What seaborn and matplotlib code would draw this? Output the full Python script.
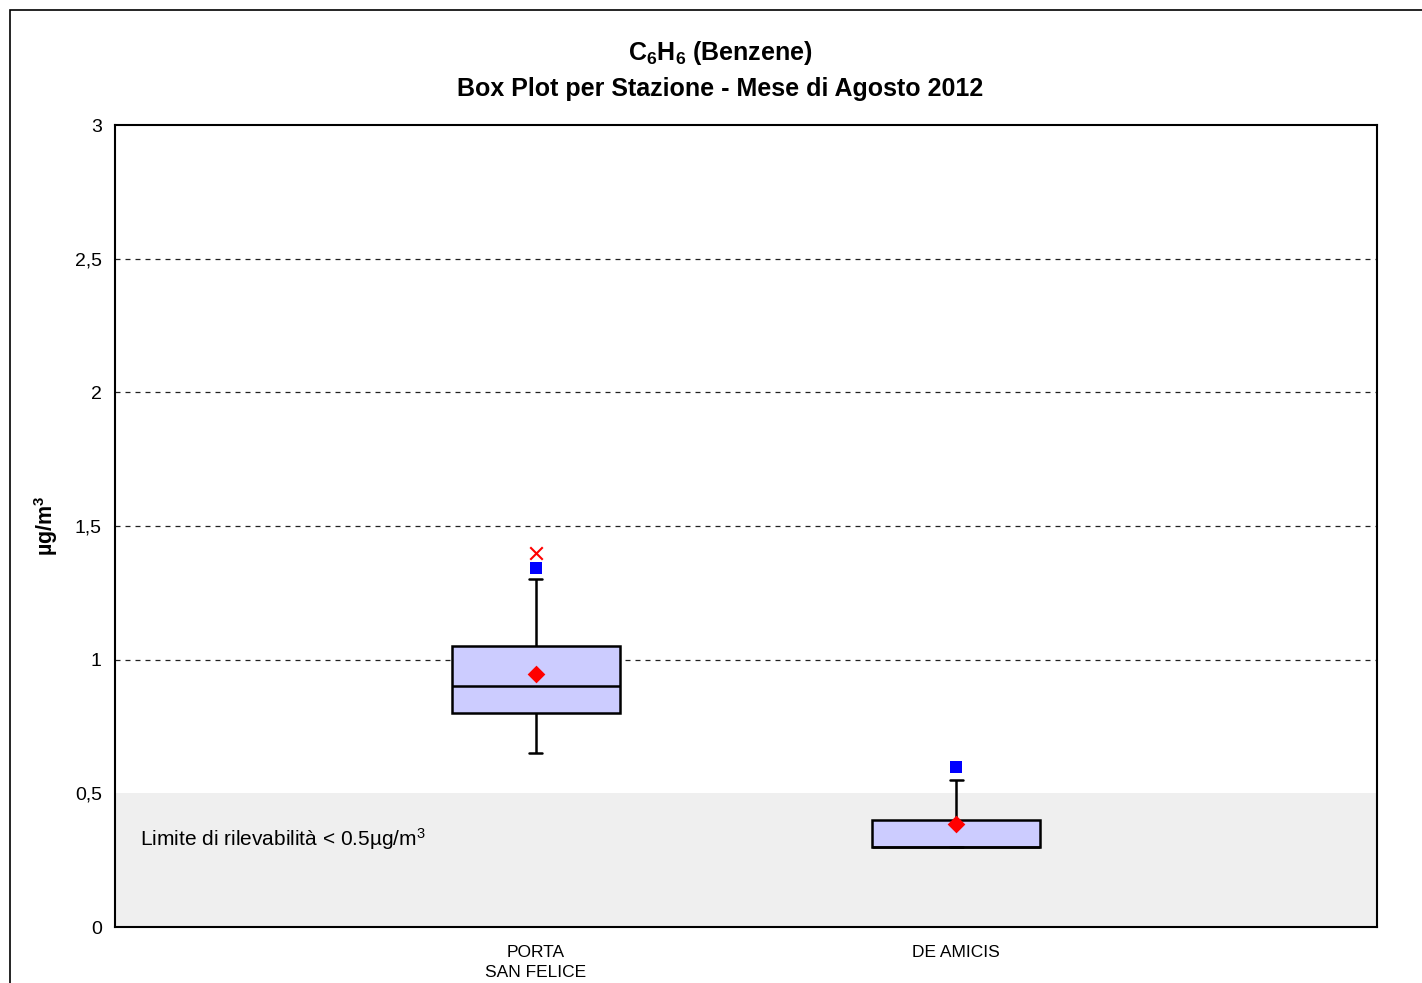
import pandas as pd
import seaborn as sns
import matplotlib.pyplot as plt
from matplotlib.patches import Rectangle
from matplotlib.ticker import FuncFormatter

# --- data ---
stations = ["PORTA SAN FELICE", "DE AMICIS"]
station_labels = ["PORTA\nSAN FELICE", "DE AMICIS"]
# five-number summary per station: min, Q1, median, Q3, max
porta_summary = [0.65, 0.80, 0.90, 1.05, 1.30]
amicis_summary = [0.30, 0.30, 0.30, 0.40, 0.55]
means = [0.947, 0.385]
squares = [1.343, 0.60]
crosses = [1.40, None]
detection_limit = 0.5

sns.set_style("white")
plt.rcParams["font.family"] = ["Liberation Sans", "DejaVu Sans"]
plt.rcParams["mathtext.default"] = "regular"
for k in ["text.color", "axes.labelcolor", "xtick.color", "ytick.color"]:
    plt.rcParams[k] = "black"

df = pd.DataFrame({
    "station": [stations[0]] * 5 + [stations[1]] * 5,
    "value": porta_summary + amicis_summary,
})
marks = pd.DataFrame({"station": stations, "mean": means,
                      "square": squares, "cross": crosses})

fig = plt.figure(figsize=(14.22, 9.83), dpi=100)
ax = fig.add_axes([115 / 1422, 1 - 927 / 983, (1377 - 115) / 1422, (927 - 125) / 983])

# grey band under the detection limit
ax.axhspan(0, detection_limit, color="#efefef", zorder=1, lw=0)
for y in [1, 1.5, 2, 2.5]:
    ax.axhline(y, color="#222222", lw=0.9, ls=(0, (4, 4)), zorder=0.5)

sns.boxplot(data=df, x="station", y="value", order=stations, whis=(0, 100),
            width=0.4, color="#ccccff", linecolor="black", linewidth=1.8,
            saturation=1, capwidths=0.03, ax=ax, zorder=2)

sns.stripplot(data=marks, x="station", y="cross", order=stations, jitter=False,
              marker="x", color="red", size=9, linewidth=1.5, ax=ax, zorder=4)
sns.stripplot(data=marks, x="station", y="square", order=stations, jitter=False,
              marker="s", color="blue", size=9, linewidth=0, ax=ax, zorder=4)
sns.stripplot(data=marks, x="station", y="mean", order=stations, jitter=False,
              marker="D", color="red", size=9, linewidth=0, ax=ax, zorder=4)

ax.set_xlim(-1, 2)
ax.set_ylim(0, 3)
ax.set_xticks([-1, 0, 1, 2])
ax.set_xticklabels([""] + station_labels + [""], fontsize=12.5, linespacing=1.4)
ax.set_yticks([0, 0.5, 1, 1.5, 2, 2.5, 3])
ax.yaxis.set_major_formatter(FuncFormatter(lambda v, p: f"{v:g}".replace(".", ",")))
ax.tick_params(axis="y", labelsize=14, direction="inout", length=9, width=1.2, pad=5)
ax.tick_params(axis="x", direction="out", length=5, width=1.2, pad=8)
ax.set_xlabel("")
ax.set_ylabel("µg/m$^3$", fontsize=15.5, fontweight="bold", labelpad=11)
for s in ax.spines.values():
    s.set_visible(True)
    s.set_color("black")
    s.set_linewidth(1.5)

ax.text(0.02, 0.33, "Limite di rilevabilità < 0.5µg/m$^3$",
        transform=ax.get_yaxis_transform(), fontsize=15, va="center", ha="left")

fig.text(0.5065, 1 - 53 / 983, "C$_6$H$_6$ (Benzene)", ha="center", va="center",
         fontsize=18, fontweight="bold")
fig.text(0.5065, 1 - 89 / 983, "Box Plot per Stazione - Mese di Agosto 2012",
         ha="center", va="center", fontsize=18, fontweight="bold")

# outer chart border (runs off the right and bottom edges)
fig.patches.append(Rectangle((10 / 1422, -0.05), 1.1, 1 - 10 / 983 + 0.05,
                             transform=fig.transFigure, fill=False,
                             edgecolor="black", lw=1.2))

fig.savefig("out.png", dpi=100)
